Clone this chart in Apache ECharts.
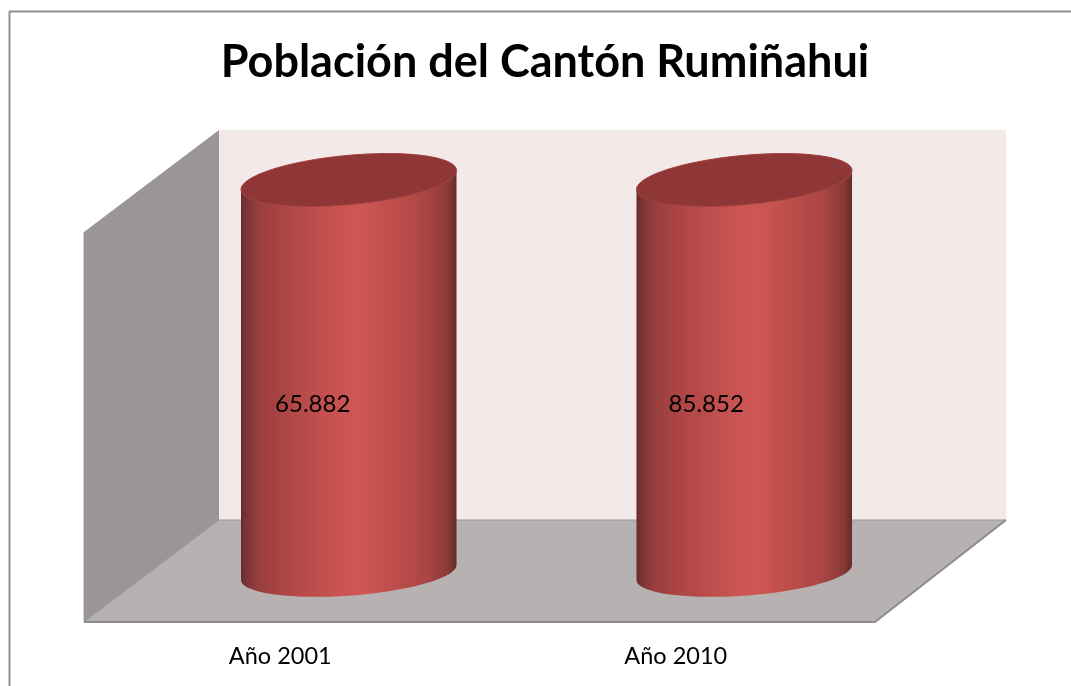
<!DOCTYPE html>
<html>
<head>
<meta charset="utf-8">
<style>html,body{margin:0;padding:0;background:#fff}#c{width:1071px;height:686px}</style>
<script src="https://cdn.jsdelivr.net/npm/echarts@6/dist/echarts.min.js"></script>
</head>
<body>
<div id="c"></div>
<script>
var titleText = 'Población del Cantón Rumiñahui';
var categories = ['Año 2001', 'Año 2010'];
var population = [65882, 85852];
// Both cylinders are drawn at full height in the picture (100 % columns)
var plottedShare = [100, 100];

function fmt(v) { return String(v).replace(/\B(?=(\d{3})+$)/g, '.'); }

var chart = echarts.init(document.getElementById('c'), null, { renderer: 'canvas' });

var bodyStops = [
  { offset: 0, color: '#642d2d' }, { offset: 0.025, color: '#7c3434' },
  { offset: 0.08, color: '#983e3e' }, { offset: 0.2, color: '#ad4545' },
  { offset: 0.42, color: '#c65250' }, { offset: 0.55, color: '#cf5754' },
  { offset: 0.72, color: '#bd4d4b' }, { offset: 0.87, color: '#a84543' },
  { offset: 0.96, color: '#8a3936' }, { offset: 1, color: '#642d2a' }
];

function ringPoint(cx, cy, a, b, k, t) {
  return [cx + a * Math.cos(t), cy - k * Math.cos(t) - b * Math.sin(t)];
}

function renderWalls(params, api) {
  var cs = params.coordSys;
  var L = cs.x, R = cs.x + cs.width, T = cs.y, B = cs.y + cs.height;
  var dx = 135, dy = 102, dxR = 131;
  var wall = [[L, T], [L + dx, T - dy], [L + dx, B - dy], [L, B]];
  var back = [[L + dx, T - dy], [R + dxR, T - dy], [R + dxR, B - dy], [L + dx, B - dy]];
  var floor = [[L, B], [L + dx, B - dy], [R + dxR, B - dy], [R, B]];
  return { type: 'group', children: [
    { type: 'polygon', shape: { points: back }, style: { fill: '#f4e9e9' } },
    { type: 'polygon', shape: { points: wall }, style: { fill: '#9b9696' } },
    { type: 'polygon', shape: { points: floor }, style: { fill: '#b8b1b1' } },
    { type: 'polyline', shape: { points: [[L, T], [L, B], [L + dx, B - dy], [R + dxR, B - dy]] },
      style: { fill: 'none', stroke: '#9a9a9a', lineWidth: 1 } },
    { type: 'polyline', shape: { points: [[L, B], [R, B], [R + dxR, B - dy]] },
      style: { fill: 'none', stroke: '#8c8c8c', lineWidth: 2 } }
  ] };
}

function renderCylinder(params, api) {
  var i = api.value(0);
  var base = api.coord([i, 0]);
  var top = api.coord([i, api.value(1)]);
  var mid = api.coord([i, api.value(1) / 2]);
  var a = api.size([1, 0])[0] * 0.2725;
  var ox = 67, oyBase = 49.5, oyTop = 52;
  var cx = base[0] + ox;
  var cyB = base[1] - oyBase, cyT = top[1] - oyTop;
  var kT = 9.5, bT = 24.7, kB = 7.5, bB = 23.2;
  var n = 72, j;
  var cap = [], body = [];
  for (j = 0; j < n; j++) cap.push(ringPoint(cx, cyT, a, bT, kT, 2 * Math.PI * j / n));
  // front half of the top rim, left to right, then down and back along the base
  for (j = 0; j <= n / 2; j++) body.push(ringPoint(cx, cyT, a, bT, kT, Math.PI + Math.PI * j / (n / 2)));
  for (j = 0; j <= n / 2; j++) body.push(ringPoint(cx, cyB, a, bB, kB, 2 * Math.PI - Math.PI * j / (n / 2)));
  return { type: 'group', children: [
    { type: 'polygon', shape: { points: body },
      style: { fill: new echarts.graphic.LinearGradient(0, 0, 1, 0, bodyStops) } },
    { type: 'polygon', shape: { points: cap },
      style: { fill: '#8e3736', stroke: '#a03f3d', lineWidth: 1 } },
    { type: 'text', x: mid[0] + 31 - i * 2, y: mid[1] - 22.5,
      style: { text: fmt(population[i]), fill: '#000', font: '24px Lato, "Open Sans", sans-serif',
               align: 'center', verticalAlign: 'middle' } }
  ] };
}

chart.setOption({
  animation: false,
  backgroundColor: '#ffffff',
  title: {
    text: titleText, left: 540, top: 35, textAlign: 'center',
    textStyle: { fontFamily: 'Lato, "Open Sans", sans-serif', fontWeight: 'bold', fontSize: 45, color: '#000' }
  },
  grid: { left: 84, top: 232, width: 791, height: 390, containLabel: false },
  xAxis: {
    type: 'category', data: categories,
    axisLine: { show: false }, axisTick: { show: false }, splitLine: { show: false },
    axisLabel: { margin: 22, color: '#000', fontSize: 23.5, fontFamily: 'Lato, "Open Sans", sans-serif',
                 padding: [0, 3, 0, 0] }
  },
  yAxis: { type: 'value', min: 0, max: 100, show: false, splitLine: { show: false } },
  graphic: [
    { type: 'line', shape: { x1: 9.5, y1: 11.5, x2: 9.5, y2: 686 }, style: { stroke: '#8f8f8f', lineWidth: 2 } },
    { type: 'line', shape: { x1: 9, y1: 11.5, x2: 1071, y2: 11.5 }, style: { stroke: '#8f8f8f', lineWidth: 2 } }
  ],
  series: [
    { type: 'custom', name: 'walls', coordinateSystem: 'cartesian2d', clip: false, z: 1, silent: true,
      renderItem: renderWalls, data: [[0, 0]] },
    { type: 'custom', name: 'Población', coordinateSystem: 'cartesian2d', clip: false, z: 2,
      renderItem: renderCylinder, encode: { x: 0, y: 1 },
      data: plottedShare.map(function (v, i) { return [i, v]; }) }
  ]
});
</script>
</body>
</html>
